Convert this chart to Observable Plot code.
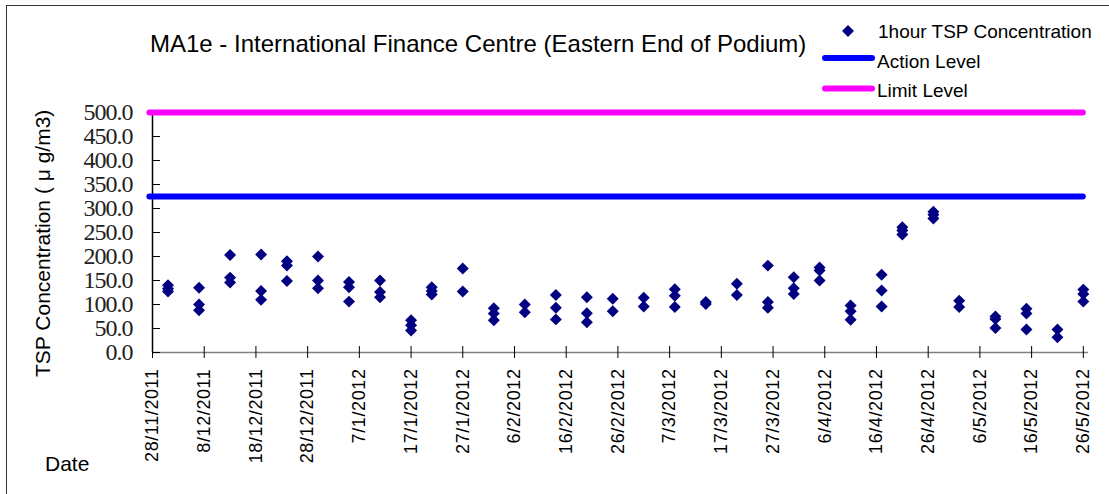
<!DOCTYPE html>
<html><head><meta charset="utf-8">
<script src="https://cdn.jsdelivr.net/npm/d3@7"></script>
<script src="https://cdn.jsdelivr.net/npm/@observablehq/plot@0.6"></script>
<style>
html,body{margin:0;padding:0;background:#fff;}
#wrap{position:relative;width:1109px;height:494px;overflow:hidden;font-family:Arial,"Liberation Sans",sans-serif;}
#border{position:absolute;left:6px;top:5px;width:1200px;height:600px;border-left:1.5px solid #333;border-top:1.5px solid #333;}
#chart{position:absolute;left:0;top:0;}
#overlay{position:absolute;left:0;top:0;}
</style></head><body>
<div id="wrap"><div id="border"></div><div id="chart"></div><svg id="overlay" width="1109" height="494"></svg></div>
<script>
const chartTitle = "MA1e - International Finance Centre (Eastern End of Podium)";
const yAxisTitle = "TSP Concentration ( μ g/m3)";
const xAxisTitle = "Date";
const seriesNames = ["1hour TSP Concentration", "Action Level", "Limit Level"];
const seriesColors = ["#000080", "#0000FF", "#FF00FF"];

const sampleDates = ["1/12/2011","7/12/2011","13/12/2011","19/12/2011","24/12/2011","30/12/2011",
  "5/1/2012","11/1/2012","17/1/2012","21/1/2012","27/1/2012","2/2/2012","8/2/2012","14/2/2012",
  "20/2/2012","25/2/2012","2/3/2012","8/3/2012","14/3/2012","20/3/2012","26/3/2012","31/3/2012",
  "5/4/2012","11/4/2012","17/4/2012","21/4/2012","27/4/2012","2/5/2012","9/5/2012","15/5/2012",
  "21/5/2012","26/5/2012"];
const sampleValues = [[140,133,127],[135,100,88],[203,156,146],[204,128,110],[190,181,149],[200,150,134],
  [147,136,106],[150,126,115],[67,57,46],[136,128,121],[175,127],[92,81,67],[100,84],[120,93,69],
  [115,82,63],[112,86],[114,96],[132,118,95],[105,101],[143,120],[181,105,93],[157,134,122],
  [177,171,150],[98,86,68],[162,129,96],[261,254,246],[293,287,279],[108,95],[75,70,51],[91,81,48],
  [48,32],[131,122,106]];

const actionLevel = 325;
const limitLevel = 500;
const xDomainLabels = ["28/11/2011", "27/5/2012"];
const levelSpanLabels = ["27/11/2011", "26/5/2012"];
const xTickLabels = ["28/11/2011","8/12/2011","18/12/2011","28/12/2011","7/1/2012","17/1/2012","27/1/2012",
  "6/2/2012","16/2/2012","26/2/2012","7/3/2012","17/3/2012","27/3/2012","6/4/2012","16/4/2012",
  "26/4/2012","6/5/2012","16/5/2012","26/5/2012"];
const yTickValues = [0,50,100,150,200,250,300,350,400,450,500];

const parse = s => { const [d,m,y] = s.split("/").map(Number); return new Date(Date.UTC(y, m-1, d)); };
const xTicks = xTickLabels.map(parse);
const labelByTime = new Map(xTicks.map((d,i) => [+d, xTickLabels[i]]));
const table = sampleDates.flatMap((s,i) => sampleValues[i].map(v => ({date: parse(s), value: v})));
const levelStart = new Date(+parse(levelSpanLabels[0]) + 12*3600e3);
const levelEnd = parse(levelSpanLabels[1]);
const levels = [
  {name: seriesNames[2], value: limitLevel, color: seriesColors[2]},
  {name: seriesNames[1], value: actionLevel, color: seriesColors[1]}
];

const chart = Plot.plot({
  width: 1109, height: 494,
  marginLeft: 152, marginRight: 21, marginTop: 112, marginBottom: 142,
  x: {type: "utc", domain: xDomainLabels.map(parse)},
  y: {domain: [0, 500]},
  style: {fontFamily: "Arial, 'Liberation Sans', sans-serif", background: "transparent", overflow: "visible", color: "black"},
  marks: [
    Plot.ruleY([0], {stroke: "#808080", strokeWidth: 1.5}),
    Plot.axisX({ticks: xTicks, tickSize: 12, dy: -6, tickFormat: () => "", label: null, stroke: "black"}),
    Plot.axisX({ticks: xTicks, tickSize: 0, tickPadding: 16, tickRotate: -90,
      tickFormat: d => labelByTime.get(+d), fontSize: 18, label: null, fill: "black"}),
    Plot.ruleX([xDomainLabels[0]].map(parse), {stroke: "black", strokeWidth: 1.5}),
    Plot.axisY({ticks: yTickValues, tickSize: -8, tickPadding: 28, tickFormat: d => d.toFixed(1),
      fontSize: 24, fontFamily: "'Liberation Serif', 'DejaVu Serif', serif", label: null, fill: "#222", stroke: "black"}),
    Plot.ruleY(levels, {y: "value", x1: () => levelStart, x2: () => levelEnd, stroke: "color", strokeWidth: 6, strokeLinecap: "round"}),
    Plot.dot(table, {x: "date", y: "value", symbol: "diamond2", r: 5.4, fill: seriesColors[0]})
  ]
});
document.getElementById("chart").appendChild(chart);
d3.select(chart).selectAll('g[aria-label="x-axis tick label"] text').style("letter-spacing", "0.6px");
d3.select(chart).selectAll('g[aria-label="y-axis tick label"] text').style("letter-spacing", "-1px");

const ov = d3.select("#overlay");
ov.append("text").attr("x", 150).attr("y", 43).attr("dominant-baseline", "central")
  .style("font-size", "24px").style("letter-spacing", "0px").text(chartTitle);
ov.append("text").attr("transform", "translate(42,377) rotate(-90)").attr("dominant-baseline", "central")
  .style("font-size", "21px").text(yAxisTitle);
ov.append("text").attr("x", 45).attr("y", 463).attr("dominant-baseline", "central")
  .style("font-size", "21px").text(xAxisTitle);
// legend
ov.append("path").attr("transform", "translate(848,31)")
  .attr("d", d3.symbol(d3.symbolDiamond2, 90)()).attr("fill", seriesColors[0]);
ov.append("text").attr("x", 878).attr("y", 31).attr("dominant-baseline", "central")
  .style("font-size", "19px").text(seriesNames[0]);
[[seriesNames[1], seriesColors[1], 58, 61], [seriesNames[2], seriesColors[2], 88.5, 90]].forEach(([n, c, ly, ty]) => {
  ov.append("line").attr("x1", 825).attr("x2", 872).attr("y1", ly).attr("y2", ly)
    .attr("stroke", c).attr("stroke-width", 6).attr("stroke-linecap", "round");
  ov.append("text").attr("x", 877).attr("y", ty).attr("dominant-baseline", "central")
    .style("font-size", "19px").text(n);
});
ov.selectAll("text").style("font-family", "Arial, 'Liberation Sans', sans-serif").attr("fill", "black");
</script>
</body></html>
